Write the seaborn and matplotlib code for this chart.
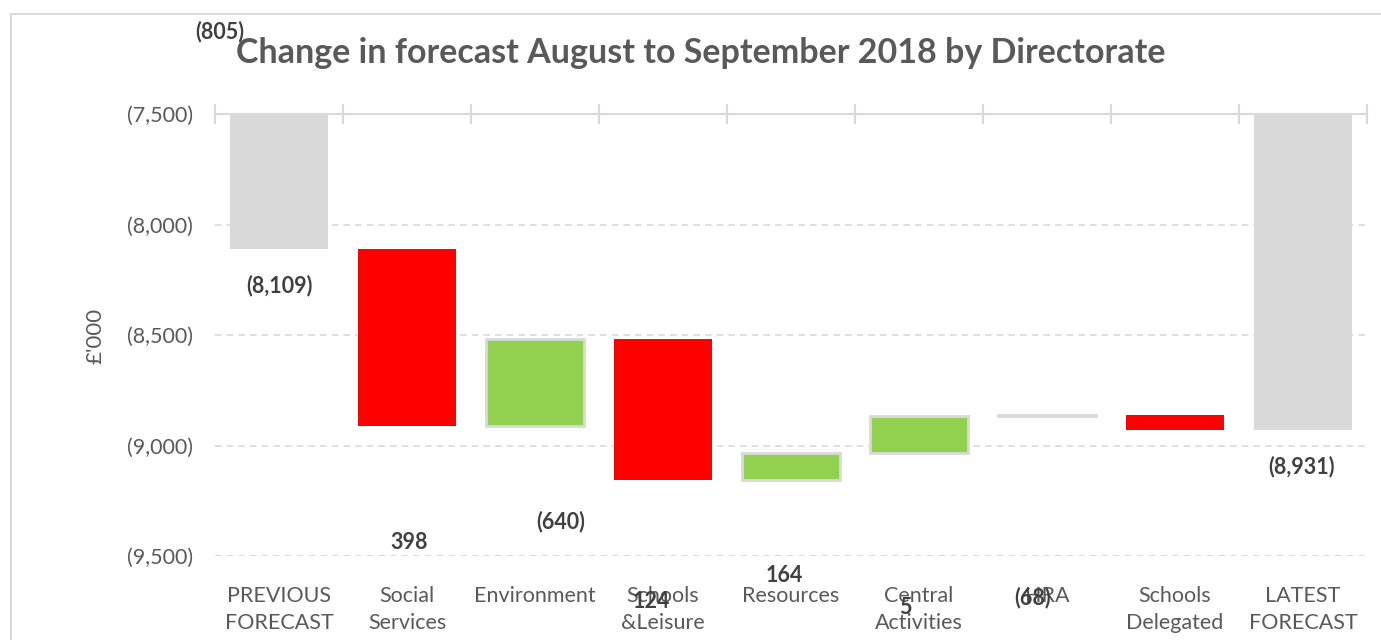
import matplotlib
matplotlib.use("Agg")
import matplotlib.pyplot as plt
import seaborn as sns
import pandas as pd
import numpy as np
from matplotlib.ticker import FixedLocator, FuncFormatter
from matplotlib.patches import Rectangle

# ---------------- data ----------------
categories = ["PREVIOUS\nFORECAST", "Social\nServices", "Environment", "Schools\n&Leisure",
              "Resources", "Central\nActivities", "HRA", "Schools\nDelegated", "LATEST\nFORECAST"]
previous_forecast = -8109
changes = [-805, 398, -640, 124, 164, 5, -68]
latest_forecast = -8931
y_ticks = [-7500, -8000, -8500, -9000, -9500]

# label placement (as in the reference, labels are offset from their bars)
label_pos = [(0.0, -8274), (-0.46, -7127), (1.02, -9441), (2.20, -9346), (2.91, -9708),
             (3.95, -9586), (4.89, -9731), (5.89, -9686), (7.99, -9093)]

# ---------------- build waterfall ----------------
bottoms, heights, colors, edges = [0], [previous_forecast], ["#D9D9D9"], ["none"]
running = previous_forecast
for c in changes:
    bottoms.append(running)
    heights.append(c)
    colors.append("#92D050" if c > 0 else "#FF0000")
    edges.append("#D9D9D9" if c > 0 else "none")
    running += c
bottoms.append(0)
heights.append(latest_forecast)
colors.append("#D9D9D9")
edges.append("none")

values_all = [previous_forecast] + changes + [latest_forecast]

def fmt(v):
    return f"({abs(v):,})" if v < 0 else f"{v:,}"

df = pd.DataFrame({"cat": categories, "height": heights})

sns.set_theme(style="white")
plt.rcParams["font.family"] = ["Lato", "DejaVu Sans"]

fig = plt.figure(figsize=(13.81, 6.4), dpi=100)
ax = fig.add_axes([215 / 1381, 1 - 556 / 640, (1367 - 215) / 1381, (556 - 114) / 640])

sns.barplot(data=df, x="cat", y="height", bottom=np.array(bottoms), ax=ax,
            width=0.77, errorbar=None, color="#D9D9D9", zorder=3)

for p, fc, ec in zip(ax.patches, colors, edges):
    p.set_facecolor(fc)
    p.set_edgecolor(ec)
    p.set_linewidth(2.0 if ec != "none" else 0)
    p.set_clip_on(True)

ax.set_ylim(-9500, -7500)
ax.set_xlim(-0.5, len(categories) - 0.5)

# grid
ax.yaxis.set_major_locator(FixedLocator(y_ticks))
ax.yaxis.set_major_formatter(FuncFormatter(lambda v, p: fmt(int(round(v)))))
ax.grid(axis="y", color="#D9D9D9", linestyle=(0, (4, 3)), linewidth=1.2, zorder=0)
ax.set_axisbelow(True)

for s in ["left", "right", "bottom"]:
    ax.spines[s].set_visible(False)
ax.spines["top"].set_color("#D9D9D9")
ax.spines["top"].set_linewidth(1.5)
ax.spines["top"].set_zorder(4)

# category boundary ticks on top
ax.xaxis.set_minor_locator(FixedLocator(np.arange(-0.5, len(categories), 1.0)))
ax.tick_params(axis="x", which="minor", top=True, bottom=False, direction="inout",
               length=14, width=1.5, color="#D9D9D9")
ax.tick_params(axis="x", which="major", length=0, pad=21.5, labelsize=15.5, labelcolor="#595959")
ax.tick_params(axis="y", which="major", length=0, pad=16, labelsize=15.5, labelcolor="#595959")
for t in ax.get_xticklabels():
    t.set_linespacing(1.45)
    t.set_verticalalignment("top")

ax.set_xlabel("")
ax.set_ylabel("")
fig.text(95 / 1381, 1 - 336 / 640, "£'000", rotation=90, ha="center", va="center",
         fontsize=16, color="#595959")

# data labels
for (lx, ly), v in zip(label_pos, values_all):
    ax.text(lx, ly, fmt(v), ha="center", va="center", fontsize=15.5, fontweight="bold",
            color="#404040", clip_on=False, zorder=6)

fig.text(701 / 1381, 1 - 53 / 640, "Change in forecast August to September 2018 by Directorate",
         ha="center", va="center", fontsize=24.5, fontweight="bold", color="#595959")

# outer chart border
fig.patches.append(Rectangle((11 / 1381, -0.1), 1.2, 1 - 14 / 640 + 0.1, transform=fig.transFigure,
                             fill=False, edgecolor="#D9D9D9", linewidth=1.5))

fig.savefig("out.png", dpi=100)
